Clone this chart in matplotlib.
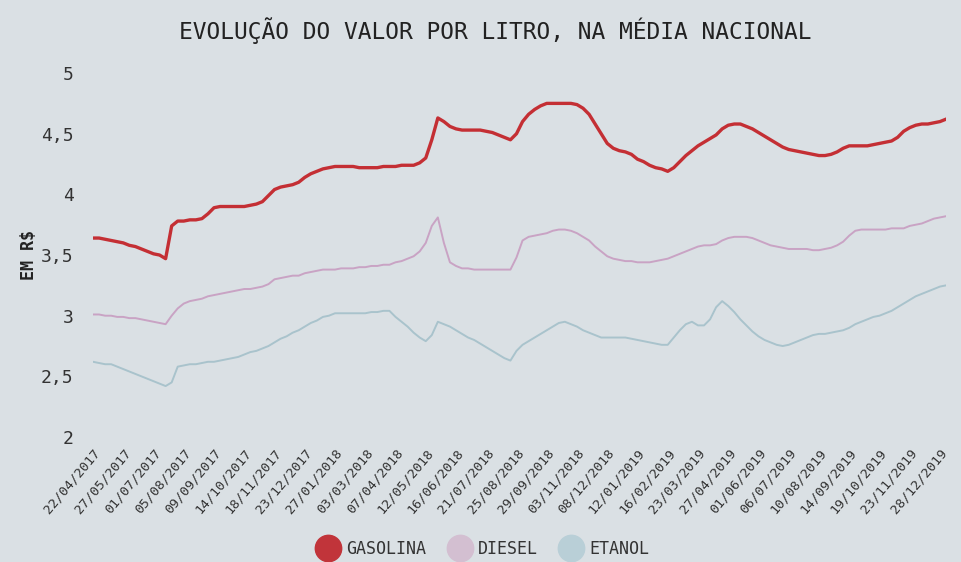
import matplotlib
matplotlib.use("Agg")
import matplotlib.pyplot as plt
from matplotlib.lines import Line2D

# weekly averages (R$ per litre), 22/04/2017 .. 28/12/2019
gasolina = [
    3.64, 3.64, 3.63, 3.62, 3.61, 3.60, 3.58, 3.57, 3.55, 3.53,
    3.51, 3.50, 3.47, 3.74, 3.78, 3.78, 3.79, 3.79, 3.80, 3.84,
    3.89, 3.90, 3.90, 3.90, 3.90, 3.90, 3.91, 3.92, 3.94, 3.99,
    4.04, 4.06, 4.07, 4.08, 4.10, 4.14, 4.17, 4.19, 4.21, 4.22,
    4.23, 4.23, 4.23, 4.23, 4.22, 4.22, 4.22, 4.22, 4.23, 4.23,
    4.23, 4.24, 4.24, 4.24, 4.26, 4.30, 4.45, 4.63, 4.60, 4.56,
    4.54, 4.53, 4.53, 4.53, 4.53, 4.52, 4.51, 4.49, 4.47, 4.45,
    4.50, 4.60, 4.66, 4.70, 4.73, 4.75, 4.75, 4.75, 4.75, 4.75,
    4.74, 4.71, 4.66, 4.58, 4.50, 4.42, 4.38, 4.36, 4.35, 4.33,
    4.29, 4.27, 4.24, 4.22, 4.21, 4.19, 4.22, 4.27, 4.32, 4.36,
    4.40, 4.43, 4.46, 4.49, 4.54, 4.57, 4.58, 4.58, 4.56, 4.54,
    4.51, 4.48, 4.45, 4.42, 4.39, 4.37, 4.36, 4.35, 4.34, 4.33,
    4.32, 4.32, 4.33, 4.35, 4.38, 4.40, 4.40, 4.40, 4.40, 4.41,
    4.42, 4.43, 4.44, 4.47, 4.52, 4.55, 4.57, 4.58, 4.58, 4.59,
    4.60, 4.62,
]
diesel = [
    3.01, 3.01, 3.00, 3.00, 2.99, 2.99, 2.98, 2.98, 2.97, 2.96,
    2.95, 2.94, 2.93, 3.00, 3.06, 3.10, 3.12, 3.13, 3.14, 3.16,
    3.17, 3.18, 3.19, 3.20, 3.21, 3.22, 3.22, 3.23, 3.24, 3.26,
    3.30, 3.31, 3.32, 3.33, 3.33, 3.35, 3.36, 3.37, 3.38, 3.38,
    3.38, 3.39, 3.39, 3.39, 3.40, 3.40, 3.41, 3.41, 3.42, 3.42,
    3.44, 3.45, 3.47, 3.49, 3.53, 3.60, 3.74, 3.81, 3.60, 3.44,
    3.41, 3.39, 3.39, 3.38, 3.38, 3.38, 3.38, 3.38, 3.38, 3.38,
    3.48, 3.62, 3.65, 3.66, 3.67, 3.68, 3.70, 3.71, 3.71, 3.70,
    3.68, 3.65, 3.62, 3.57, 3.53, 3.49, 3.47, 3.46, 3.45, 3.45,
    3.44, 3.44, 3.44, 3.45, 3.46, 3.47, 3.49, 3.51, 3.53, 3.55,
    3.57, 3.58, 3.58, 3.59, 3.62, 3.64, 3.65, 3.65, 3.65, 3.64,
    3.62, 3.60, 3.58, 3.57, 3.56, 3.55, 3.55, 3.55, 3.55, 3.54,
    3.54, 3.55, 3.56, 3.58, 3.61, 3.66, 3.70, 3.71, 3.71, 3.71,
    3.71, 3.71, 3.72, 3.72, 3.72, 3.74, 3.75, 3.76, 3.78, 3.80,
    3.81, 3.82,
]
etanol = [
    2.62, 2.61, 2.60, 2.60, 2.58, 2.56, 2.54, 2.52, 2.50, 2.48,
    2.46, 2.44, 2.42, 2.45, 2.58, 2.59, 2.60, 2.60, 2.61, 2.62,
    2.62, 2.63, 2.64, 2.65, 2.66, 2.68, 2.70, 2.71, 2.73, 2.75,
    2.78, 2.81, 2.83, 2.86, 2.88, 2.91, 2.94, 2.96, 2.99, 3.00,
    3.02, 3.02, 3.02, 3.02, 3.02, 3.02, 3.03, 3.03, 3.04, 3.04,
    2.99, 2.95, 2.91, 2.86, 2.82, 2.79, 2.84, 2.95, 2.93, 2.91,
    2.88, 2.85, 2.82, 2.80, 2.77, 2.74, 2.71, 2.68, 2.65, 2.63,
    2.71, 2.76, 2.79, 2.82, 2.85, 2.88, 2.91, 2.94, 2.95, 2.93,
    2.91, 2.88, 2.86, 2.84, 2.82, 2.82, 2.82, 2.82, 2.82, 2.81,
    2.80, 2.79, 2.78, 2.77, 2.76, 2.76, 2.82, 2.88, 2.93, 2.95,
    2.92, 2.92, 2.97, 3.07, 3.12, 3.08, 3.03, 2.97, 2.92, 2.87,
    2.83, 2.80, 2.78, 2.76, 2.75, 2.76, 2.78, 2.80, 2.82, 2.84,
    2.85, 2.85, 2.86, 2.87, 2.88, 2.90, 2.93, 2.95, 2.97, 2.99,
    3.00, 3.02, 3.04, 3.07, 3.10, 3.13, 3.16, 3.18, 3.20, 3.22,
    3.24, 3.25,
]

# one label every 5 weeks
tick_labels = [
    "22/04/2017", "27/05/2017", "01/07/2017", "05/08/2017", "09/09/2017",
    "14/10/2017", "18/11/2017", "23/12/2017", "27/01/2018", "03/03/2018",
    "07/04/2018", "12/05/2018", "16/06/2018", "21/07/2018", "25/08/2018",
    "29/09/2018", "03/11/2018", "08/12/2018", "12/01/2019", "16/02/2019",
    "23/03/2019", "27/04/2019", "01/06/2019", "06/07/2019", "10/08/2019",
    "14/09/2019", "19/10/2019", "23/11/2019", "28/12/2019",
]
y_ticks = [2, 2.5, 3, 3.5, 4, 4.5, 5]

bg = "#dae0e4"
c_gas = "#c42f34"
c_die = "#c9a3c4"
c_eta = "#a9c3cc"
mono = "DejaVu Sans Mono"

fig = plt.figure(figsize=(9.61, 5.62), dpi=100, facecolor=bg)
ax = fig.add_axes([0.0968, 0.2224, 0.8876, 0.6476])
ax.set_facecolor(bg)

weeks = list(range(len(gasolina)))
ax.plot(weeks, etanol, color=c_eta, lw=1.4)
ax.plot(weeks, diesel, color=c_die, lw=1.4)
ax.plot(weeks, gasolina, color=c_gas, lw=2.4)

ax.set_xlim(0, len(gasolina) - 1)
ax.set_ylim(2, 5)
ax.set_yticks(y_ticks)
ax.set_yticklabels([f"{v:g}".replace(".", ",") for v in y_ticks],
                   fontfamily=mono, fontsize=13, color="#333333")
ax.set_xticks(range(0, 5 * len(tick_labels), 5))
ax.set_xticklabels(tick_labels, rotation=50, ha="right", rotation_mode="anchor",
                   fontfamily=mono, fontsize=9.5, color="#333333")
ax.tick_params(axis="both", length=0)
ax.tick_params(axis="y", pad=14)
ax.tick_params(axis="x", pad=7)
for s in ax.spines.values():
    s.set_visible(False)

ax.set_ylabel("EM R$", fontfamily=mono, fontsize=12, fontweight="bold",
              color="#222222", labelpad=2)

fig.text(0.515, 0.945, "EVOLUÇÃO DO VALOR POR LITRO, NA MÉDIA NACIONAL",
         ha="center", va="center", fontfamily=mono, fontsize=16.5, color="#222222")

handles = [
    Line2D([], [], ls="", marker="o", ms=19, mfc=c, mec=c)
    for c in ["#c1343a", "#d3bfd1", "#b9cfd7"]
]
fig.legend(handles, ["GASOLINA", "DIESEL", "ETANOL"], loc="center",
           bbox_to_anchor=(0.5, 0.024), ncol=3, frameon=False,
           prop={"family": mono, "size": 12}, handletextpad=0.1,
           columnspacing=1.0, labelcolor="#333333")

fig.savefig("out.png", dpi=100, facecolor=bg)
